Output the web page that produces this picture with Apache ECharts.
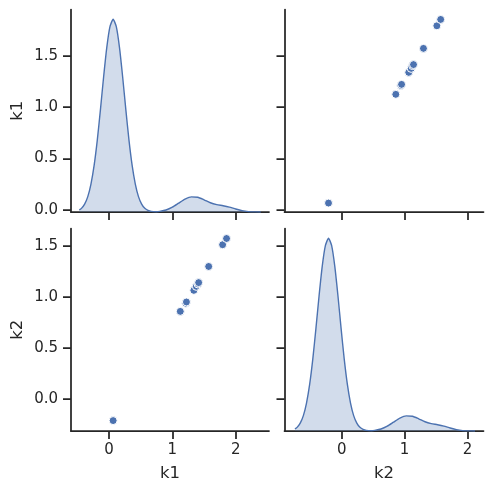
<!DOCTYPE html>
<html>
<head>
<meta charset="utf-8">
<script src="https://cdn.jsdelivr.net/npm/echarts@6/dist/echarts.min.js"></script>
<style>
  html, body { margin: 0; padding: 0; background: #ffffff; }
  #chart { width: 493px; height: 493px; }
</style>
</head>
<body>
<div id="chart"></div>
<script>
// ---- data ----
const k1Values = [0.065, 1.125, 1.212, 1.222, 1.339, 1.378, 1.405, 1.415, 1.573, 1.793, 1.855];
const k2Values = [-0.21, 0.86, 0.94, 0.952, 1.066, 1.105, 1.128, 1.142, 1.30, 1.513, 1.574];

// KDE curves (density as share of panel height)
const k1KdeX = [-0.469, -0.435, -0.385, -0.335, -0.285, -0.235, -0.185, -0.135, -0.085, -0.035, 0.015, 0.065,
  0.115, 0.165, 0.215, 0.265, 0.315, 0.365, 0.415, 0.465, 0.515, 0.565, 0.615, 0.665, 0.75,
  0.8, 0.9, 1.0, 1.1, 1.2, 1.3, 1.4, 1.5, 1.6, 1.7, 1.8, 1.9, 2.0, 2.1, 2.2, 2.3, 2.395];
const k1KdeY = [0.0105, 0.018, 0.039, 0.076, 0.138, 0.230, 0.355, 0.507, 0.668, 0.813, 0.915, 0.952,
  0.915, 0.813, 0.668, 0.507, 0.355, 0.230, 0.138, 0.076, 0.039, 0.018, 0.008, 0.003, 0.0015,
  0.0032, 0.0100, 0.0238, 0.0435, 0.0632, 0.0746, 0.0727, 0.0601, 0.0458, 0.0367, 0.0311, 0.0240, 0.0146, 0.0066, 0.0021, 0.0005, 0.0001];
const k2KdeX = [-0.744, -0.71, -0.66, -0.61, -0.56, -0.51, -0.46, -0.41, -0.36, -0.31, -0.26, -0.21,
  -0.16, -0.11, -0.06, -0.01, 0.04, 0.09, 0.14, 0.19, 0.24, 0.29, 0.34, 0.39, 0.475,
  0.525, 0.625, 0.725, 0.825, 0.925, 1.025, 1.125, 1.225, 1.325, 1.425, 1.525, 1.625, 1.725, 1.825, 1.925, 2.025, 2.12];
const k2KdeY = [0.0105, 0.018, 0.039, 0.076, 0.138, 0.230, 0.355, 0.507, 0.668, 0.813, 0.915, 0.952,
  0.915, 0.813, 0.668, 0.507, 0.355, 0.230, 0.138, 0.076, 0.039, 0.018, 0.008, 0.003, 0.0015,
  0.0032, 0.0100, 0.0238, 0.0435, 0.0632, 0.0746, 0.0727, 0.0601, 0.0458, 0.0367, 0.0311, 0.0240, 0.0146, 0.0066, 0.0021, 0.0005, 0.0001];

const xTicks = [0, 1, 2];
const yTicks = [0, 0.5, 1.0, 1.5];
const varNames = ['k1', 'k2'];

// ---- styling ----
const INK = '#262626';
const BLUE = '#4c72b0';
const FONT = 'DejaVu Sans';

const k1Range = [-0.60, 2.525];
const k2XRange = [-0.91, 2.255];
const k1YRange = [-0.022, 1.952];
const k2YRange = [-0.312, 1.672];

function xAxis(grid, range, showLabels, name) {
  return {
    type: 'value', gridIndex: grid, min: range[0], max: range[1],
    name: name || '', nameLocation: 'middle', nameGap: 34,
    nameTextStyle: { fontFamily: FONT, fontSize: 16.5, color: INK },
    axisLine: { show: true, onZero: false, lineStyle: { color: INK, width: 1.75 } },
    axisTick: { show: true, length: 8, inside: false, customValues: xTicks, lineStyle: { color: INK, width: 1.75 } },
    axisLabel: { show: showLabels, customValues: xTicks, margin: 12, fontFamily: FONT, fontSize: 15, color: INK,
      formatter: v => String(Math.round(v)) },
    splitLine: { show: false }
  };
}
function yAxis(grid, range, showLabels, name) {
  return {
    type: 'value', gridIndex: grid, min: range[0], max: range[1],
    name: name || '', nameLocation: 'middle', nameGap: 45, nameRotate: 90,
    nameTextStyle: { fontFamily: FONT, fontSize: 16.5, color: INK },
    axisLine: { show: true, onZero: false, lineStyle: { color: INK, width: 1.75 } },
    axisTick: { show: true, length: 8, inside: false, customValues: yTicks, lineStyle: { color: INK, width: 1.75 } },
    axisLabel: { show: showLabels, customValues: yTicks, margin: 13, fontFamily: FONT, fontSize: 15, color: INK,
      formatter: v => v.toFixed(1) },
    splitLine: { show: false }
  };
}
function hiddenY(grid) {
  return { type: 'value', gridIndex: grid, min: 0, max: 1, show: false, splitLine: { show: false } };
}

const scatterStyle = { color: BLUE, borderColor: '#ffffff', borderWidth: 1, opacity: 1 };
const pairsTR = k1Values.map((v, i) => [k2Values[i], v]);
const pairsBL = k1Values.map((v, i) => [v, k2Values[i]]);

const option = {
  backgroundColor: '#ffffff',
  animation: false,
  grid: [
    { left: 71, top: 9.5, width: 198, height: 202.5 },
    { left: 284.5, top: 9.5, width: 199, height: 202.5 },
    { left: 71, top: 228.5, width: 198, height: 202.5 },
    { left: 284.5, top: 228.5, width: 199, height: 202.5 }
  ],
  xAxis: [
    xAxis(0, k1Range, false),
    xAxis(1, k2XRange, false),
    xAxis(2, k1Range, true, varNames[0]),
    xAxis(3, k2XRange, true, varNames[1])
  ],
  yAxis: [
    yAxis(0, k1YRange, true, varNames[0]),
    yAxis(1, k1YRange, false),
    yAxis(2, k2YRange, true, varNames[1]),
    yAxis(3, k2YRange, false),
    hiddenY(0),
    hiddenY(3)
  ],
  series: [
    {
      type: 'line', xAxisIndex: 0, yAxisIndex: 4, showSymbol: false, smooth: 0.2,
      data: k1KdeX.map((x, i) => [x, k1KdeY[i]]),
      lineStyle: { color: BLUE, width: 1.4 },
      areaStyle: { color: BLUE, opacity: 0.25 }
    },
    {
      type: 'scatter', xAxisIndex: 1, yAxisIndex: 1, symbolSize: 8,
      data: pairsTR, itemStyle: scatterStyle
    },
    {
      type: 'scatter', xAxisIndex: 2, yAxisIndex: 2, symbolSize: 8,
      data: pairsBL, itemStyle: scatterStyle
    },
    {
      type: 'line', xAxisIndex: 3, yAxisIndex: 5, showSymbol: false, smooth: 0.2,
      data: k2KdeX.map((x, i) => [x, k2KdeY[i]]),
      lineStyle: { color: BLUE, width: 1.4 },
      areaStyle: { color: BLUE, opacity: 0.25 }
    }
  ]
};

const chart = echarts.init(document.getElementById('chart'), null, { renderer: 'canvas' });
chart.setOption(option);
</script>
</body>
</html>
